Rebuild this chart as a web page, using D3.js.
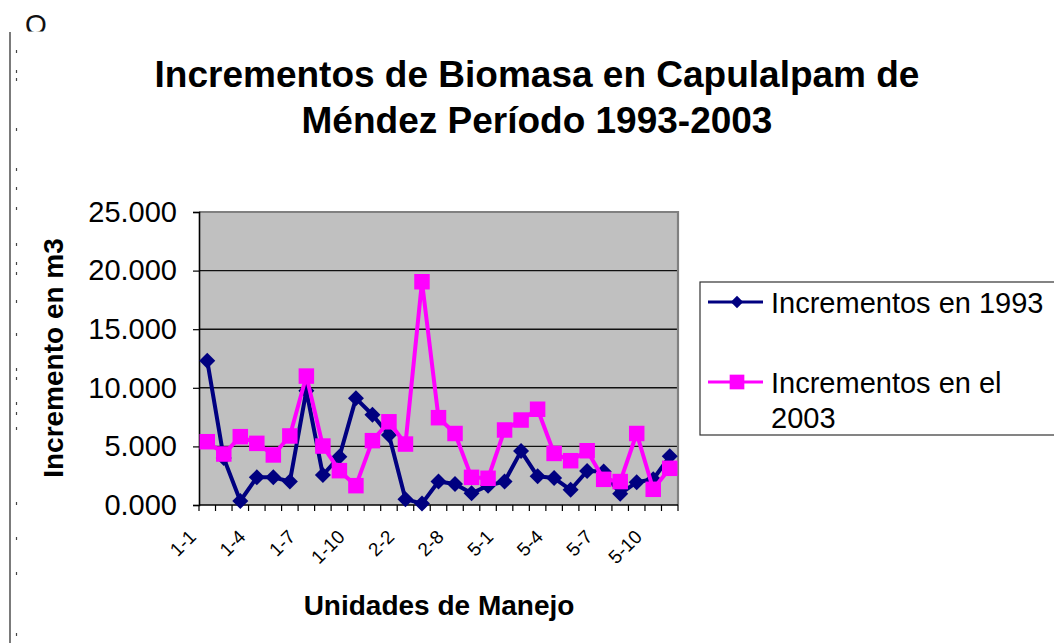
<!DOCTYPE html>
<html>
<head>
<meta charset="utf-8">
<script src="https://cdn.jsdelivr.net/npm/d3@7"></script>
<style>
  body { margin: 0; background: #fff; }
  svg { display: block; font-family: "Liberation Sans", Arial, sans-serif; }
</style>
</head>
<body>
<svg id="chart" width="1054" height="643"></svg>
<script>
// Incrementos de biomasa por unidad de manejo, 1993 vs 2003 (miles de m3)
const units = ['1-1','1-2','1-3','1-4','1-5','1-6','1-7','1-8','1-9','1-10','1-11',
  '2-1','2-2','2-4','2-6','2-8','2-9','2-10',
  '5-1','5-2','5-3','5-4','5-5','5-6','5-7','5-8','5-9','5-10','5-11'];
const inc1993 = [12.3, 4.0, 0.34, 2.36, 2.36, 2.0, 9.75, 2.56, 4.12, 9.1, 7.7,
  5.97, 0.5, 0.12, 2.0, 1.8, 1.0, 1.65,
  2.0, 4.6, 2.45, 2.3, 1.3, 2.9, 2.85, 0.95, 1.95, 2.2, 4.15];
const inc2003 = [5.4, 4.35, 5.83, 5.26, 4.27, 5.89, 11.0, 5.03, 2.93, 1.65, 5.49,
  7.1, 5.2, 19.05, 7.45, 6.1, 2.36, 2.28,
  6.4, 7.25, 8.17, 4.4, 3.78, 4.63, 2.19, 2.0, 6.1, 1.34, 3.13];
const yTicks = [0, 5, 10, 15, 20, 25];
const xLabelEvery = 3;
const seriesNames = ['Incrementos en 1993', 'Incrementos en el 2003'];

const svg = d3.select('#chart');
const P = { left: 199, top: 212, right: 678, bottom: 505 };

// borde recortado de la página a la izquierda
svg.append('clipPath').attr('id', 'cut').append('rect')
  .attr('x', 0).attr('y', 0).attr('width', 80).attr('height', 31.5);
svg.append('text').attr('clip-path', 'url(#cut)').attr('x', 25).attr('y', 33.5)
  .style('font-size', '28px').attr('fill', '#111').text('Q');
const edgeMarks = [50, 70, 78, 128, 168, 187, 207, 243, 262, 272, 300, 333, 368, 377, 402, 412, 427, 502, 537, 572, 633];
svg.append('line').attr('x1', 10).attr('x2', 10).attr('y1', 32).attr('y2', 643)
  .attr('stroke', '#222').attr('stroke-width', 1.2);
svg.append('g').selectAll('line').data(edgeMarks).join('line')
  .attr('x1', 16.5).attr('x2', 16.5).attr('y1', d => d).attr('y2', d => d + 3)
  .attr('stroke', '#444').attr('stroke-width', 1.2);

const x = d3.scaleBand().domain(units).range([P.left, P.right]).padding(0);
const cx = d => x(d) + x.bandwidth() / 2;
const y = d3.scaleLinear().domain([0, 25]).range([P.bottom, P.top]);

// área de trazado
svg.append('rect').attr('x', P.left).attr('y', P.top)
  .attr('width', P.right - P.left).attr('height', P.bottom - P.top).attr('fill', '#C0C0C0');
svg.append('g').selectAll('line').data(yTicks.slice(1, -1)).join('line')
  .attr('x1', P.left).attr('x2', P.right).attr('y1', d => y(d)).attr('y2', d => y(d))
  .attr('stroke', '#111').attr('stroke-width', 1.4);
svg.append('path')
  .attr('d', `M${P.left},${y(25)}H${P.right}V${P.bottom}`)
  .attr('fill', 'none').attr('stroke', '#808080').attr('stroke-width', 2.2);

// eje Y
const yAxis = svg.append('g').attr('transform', `translate(${P.left},0)`)
  .call(d3.axisLeft(y).tickValues(yTicks).tickFormat(d3.format('.3f')).tickSize(6).tickPadding(16));
yAxis.select('.domain').attr('stroke', '#000').attr('stroke-width', 1.6);
yAxis.selectAll('.tick line').attr('stroke', '#000').attr('stroke-width', 1.2);
yAxis.selectAll('.tick text').attr('fill', '#000')
  .style('font-size', '29px').attr('font-family', '"Liberation Sans", Arial, sans-serif');

// eje X: marcas entre categorías, etiqueta cada 3
const bounds = units.map(u => x(u)).concat([x.range()[1]]);
svg.append('line').attr('x1', P.left).attr('x2', P.right).attr('y1', P.bottom).attr('y2', P.bottom)
  .attr('stroke', '#000').attr('stroke-width', 1.6);
svg.append('g').selectAll('line').data(bounds).join('line')
  .attr('x1', d => d).attr('x2', d => d).attr('y1', P.bottom).attr('y2', P.bottom + 6)
  .attr('stroke', '#000').attr('stroke-width', 1.2);
svg.append('g').selectAll('text').data(units.filter((u, i) => i % xLabelEvery === 0)).join('text')
  .attr('transform', d => `translate(${cx(d) - 10},${P.bottom + 33}) rotate(-45)`)
  .attr('text-anchor', 'end')
  .style('font-size', '19px').attr('fill', '#000')
  .text(d => d);

// series
const series = [
  { name: seriesNames[0], values: inc1993, color: '#000080', sym: d3.symbolSquare, size: 128, rot: 45 },
  { name: seriesNames[1], values: inc2003, color: '#FF00FF', sym: d3.symbolSquare, size: 240, rot: 0 }
];
const line = d3.line().x((v, i) => cx(units[i])).y(v => y(v));
series.forEach(s => {
  const g = svg.append('g');
  g.append('path').attr('d', line(s.values)).attr('fill', 'none')
    .attr('stroke', s.color).attr('stroke-width', 4).attr('stroke-linejoin', 'round');
  g.selectAll('path.mk').data(s.values).join('path').attr('class', 'mk')
    .attr('transform', (v, i) => `translate(${cx(units[i])},${y(v)}) rotate(${s.rot})`)
    .attr('d', d3.symbol(s.sym, s.size)())
    .attr('fill', s.color);
});

// títulos
const title = svg.append('text').attr('x', 537).attr('text-anchor', 'middle')
  .attr('font-weight', 700).style('font-size', '37px').attr('fill', '#000');
title.append('tspan').attr('x', 537).attr('y', 87).text('Incrementos de Biomasa en Capulalpam de');
title.append('tspan').attr('x', 537).attr('y', 133).text('Méndez Período 1993-2003');

svg.append('text').attr('x', 439).attr('y', 615).attr('text-anchor', 'middle')
  .attr('font-weight', 700).style('font-size', '28px').text('Unidades de Manejo');
svg.append('text').attr('transform', 'translate(63,358) rotate(-90)').attr('text-anchor', 'middle')
  .attr('font-weight', 700).style('font-size', '28px').text('Incremento en m3');

// leyenda
const lg = svg.append('g');
lg.append('rect').attr('x', 700).attr('y', 282).attr('width', 380).attr('height', 153)
  .attr('fill', '#fff').attr('stroke', '#333').attr('stroke-width', 1.2);
const legendRows = [
  { s: series[0], y: 302, lines: ['Incrementos en 1993'] },
  { s: series[1], y: 382, lines: ['Incrementos en el', '2003'] }
];
legendRows.forEach(r => {
  lg.append('line').attr('x1', 708).attr('x2', 763).attr('y1', r.y).attr('y2', r.y)
    .attr('stroke', r.s.color).attr('stroke-width', 3);
  lg.append('path').attr('transform', `translate(737,${r.y}) rotate(${r.s.rot})`)
    .attr('d', d3.symbol(r.s.sym, r.s.size * (r.s.rot ? 0.6 : 0.9))()).attr('fill', r.s.color);
  const t = lg.append('text').style('font-size', '29px').attr('fill', '#000');
  r.lines.forEach((ln, k) => t.append('tspan').attr('x', 771).attr('y', r.y + 11 + k * 35).text(ln));
});
</script>
</body>
</html>
